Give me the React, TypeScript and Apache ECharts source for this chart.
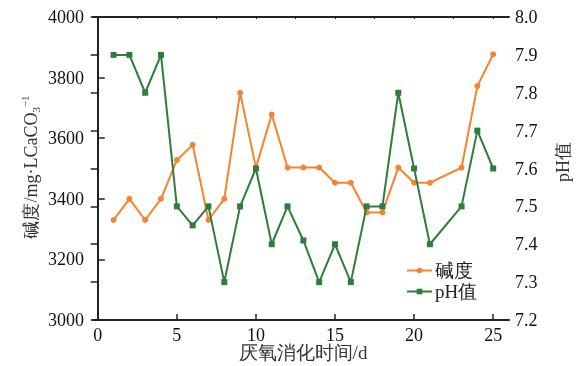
import React, { useEffect, useRef } from "react";
import * as echarts from "echarts";

const days = [1, 2, 3, 4, 5, 6, 7, 8, 9, 10, 11, 12, 13, 14, 15, 16, 17, 18, 19, 20, 21, 23, 24, 25];
const alkalinity = [3330, 3400, 3330, 3400, 3528, 3578, 3330, 3400, 3750, 3503, 3678, 3503, 3503, 3503, 3453, 3453, 3355, 3355, 3503, 3453, 3453, 3503, 3772, 3877];
const ph = [7.9, 7.9, 7.8, 7.9, 7.5, 7.45, 7.5, 7.3, 7.5, 7.6, 7.4, 7.5, 7.41, 7.3, 7.4, 7.3, 7.5, 7.5, 7.8, 7.6, 7.4, 7.5, 7.7, 7.6];

const xTicks = [0, 5, 10, 15, 20, 25];
const xTopTicks = [0, 2.5, 5, 7.5, 10, 12.5, 15, 17.5, 20, 22.5, 25];

const seriesNames = ["碱度", "pH值"];
const xName = "厌氧消化时间/d";
const leftName = "{a|碱度/mg·LCaCO}{sub|3}{sup|−1}";
const rightName = "pH值";

const FONT = "Liberation Serif";
const ORANGE = "#F5832F";
const GREEN = "#2E7D3B";
const AXIS = "#222222";

export default function App() {
  const ref = useRef<HTMLDivElement>(null);
  useEffect(() => {
    if (!ref.current) return;
    const chart = echarts.init(ref.current, undefined, { renderer: "svg" });
    const axisLine = { show: true, lineStyle: { color: AXIS, width: 2 } };
    chart.setOption({
      animation: false,
      textStyle: { fontFamily: FONT, color: "#111" },
      grid: { left: 93, right: 69, top: 17, bottom: 46, containLabel: false, outerBoundsMode: "none" },
      legend: {
        orient: "vertical",
        left: 401,
        top: 256,
        itemWidth: 25,
        itemHeight: 7,
        itemGap: 2,
        textStyle: { fontFamily: FONT, fontSize: 19, color: "#222", padding: [0, 0, 0, -2] },
        data: seriesNames,
      },
      graphic: [
        {
          type: "text",
          x: 303,
          y: 352,
          style: {
            text: xName,
            fontFamily: FONT,
            fontSize: 19,
            fill: "#333",
            align: "center",
            verticalAlign: "middle",
          },
        },
        {
          type: "text",
          x: 31,
          y: 167,
          rotation: Math.PI / 2,
          style: {
            text: leftName,
            fontFamily: FONT,
            fontSize: 18,
            fill: "#333",
            align: "center",
            verticalAlign: "middle",
            rich: {
              a: { fontFamily: FONT, fontSize: 18, fill: "#333" },
              sub: { fontFamily: FONT, fontSize: 11, fill: "#333", padding: [10, 0, 0, 0] },
              sup: { fontFamily: FONT, fontSize: 11, fill: "#333", padding: [0, 0, 12, 0] },
            },
          },
        },
        {
          type: "text",
          x: 563,
          y: 162,
          rotation: Math.PI / 2,
          style: {
            text: rightName,
            fontFamily: FONT,
            fontSize: 18,
            fill: "#333",
            align: "center",
            verticalAlign: "middle",
          },
        },
      ],
      xAxis: [
        {
          type: "value",
          position: "bottom",
          min: -0.3,
          max: 26,
          axisLine,
          axisTick: { show: true, inside: true, length: 6, customValues: xTicks, lineStyle: { color: AXIS, width: 1.5 } },
          axisLabel: {
            fontFamily: FONT,
            fontSize: 18,
            color: "#111",
            margin: 6,
            customValues: xTicks,
            formatter: (v: number) => String(v),
          },
          splitLine: { show: false },
        },
        {
          type: "value",
          position: "top",
          min: -0.3,
          max: 26,
          axisLine,
          axisTick: { show: true, inside: true, length: 2, customValues: xTopTicks, lineStyle: { color: AXIS, width: 1 } },
          axisLabel: { show: false },
          splitLine: { show: false },
        },
      ],
      yAxis: [
        {
          type: "value",
          position: "left",
          min: 3000,
          max: 4000,
          interval: 200,
          axisLine,
          axisTick: { show: true, inside: true, length: 7, lineStyle: { color: AXIS, width: 1.5 } },
          axisLabel: { fontFamily: FONT, fontSize: 18, color: "#111", margin: 9, formatter: (v: number) => String(v) },
          splitLine: { show: false },
        },
        {
          type: "value",
          position: "right",
          min: 7.2,
          max: 8.0,
          interval: 0.1,
          axisLine,
          axisTick: { show: true, inside: true, length: 7, lineStyle: { color: AXIS, width: 1.5 } },
          axisLabel: {
            fontFamily: FONT,
            fontSize: 18,
            color: "#111",
            margin: 6,
            formatter: (v: number) => v.toFixed(1),
          },
          splitLine: { show: false },
        },
      ],
      series: [
        {
          name: seriesNames[0],
          type: "line",
          xAxisIndex: 0,
          yAxisIndex: 0,
          data: days.map((d, i) => [d, alkalinity[i]]),
          symbol: "circle",
          symbolSize: 6,
          itemStyle: { color: ORANGE },
          lineStyle: { color: ORANGE, width: 2 },
          z: 3,
        },
        {
          name: seriesNames[1],
          type: "line",
          xAxisIndex: 0,
          yAxisIndex: 1,
          data: days.map((d, i) => [d, ph[i]]),
          symbol: "rect",
          symbolSize: 6,
          itemStyle: { color: GREEN },
          lineStyle: { color: GREEN, width: 2 },
          z: 4,
        },
      ],
    });
    return () => chart.dispose();
  }, []);
  return (
    <div
      ref={ref}
      style={{ position: "fixed", left: 0, top: 0, width: 578, height: 366, overflow: "hidden" }}
    />
  );
}
